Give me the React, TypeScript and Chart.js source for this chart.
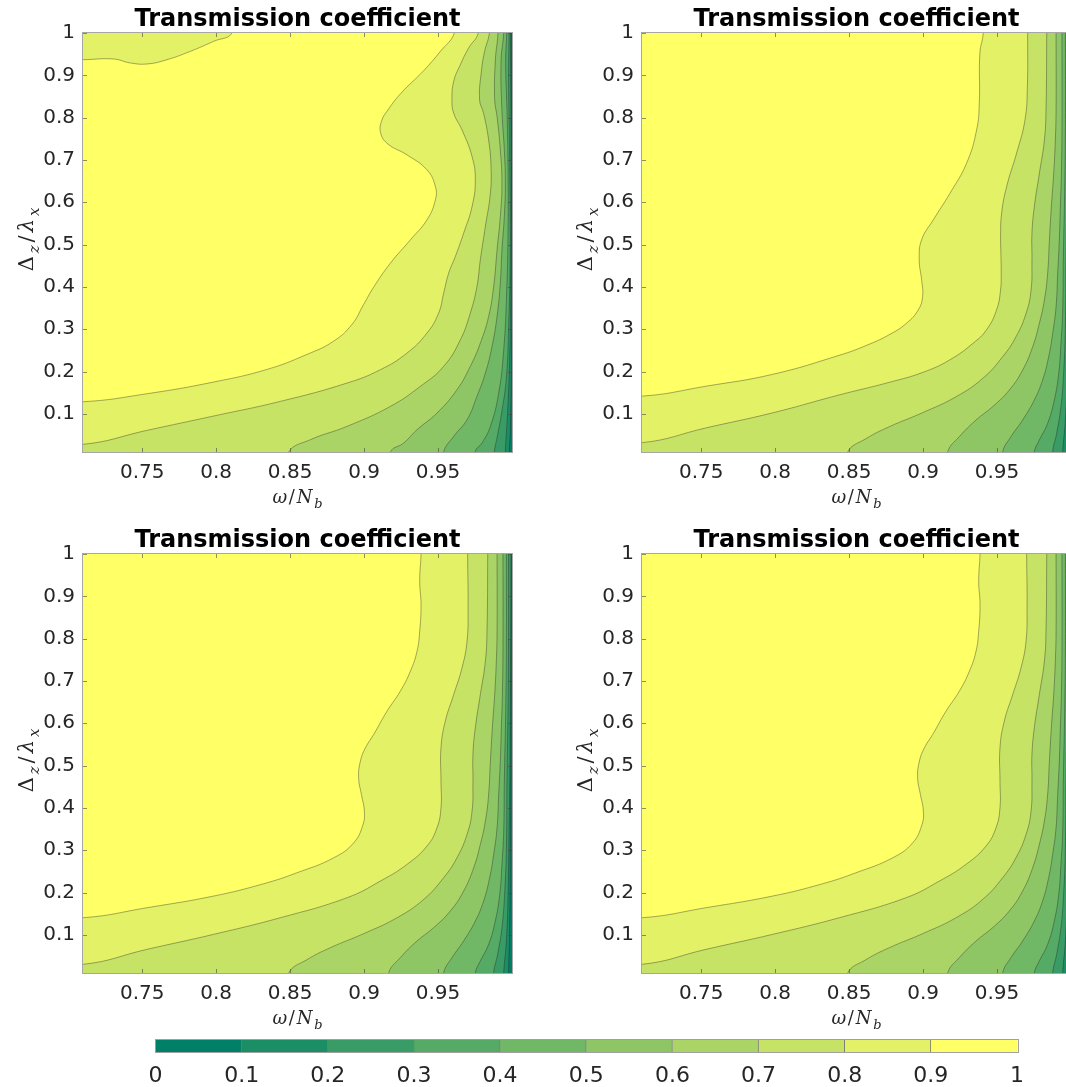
import { useEffect, useRef } from "react";
import { Chart, registerables } from "chart.js";

Chart.register(...registerables);

type XY = [number, number];

// Axis ranges: ω/N_b horizontally, Δz/λx vertically
const W_MIN = 0.71;
const W_MAX = 1.0;
const D_MIN = 0.01;
const D_MAX = 1.0;

const xTickValues = [0.75, 0.8, 0.85, 0.9, 0.95];
const yTickValues = [0.1, 0.2, 0.3, 0.4, 0.5, 0.6, 0.7, 0.8, 0.9, 1];
const contourLevels = [0.1, 0.2, 0.3, 0.4, 0.5, 0.6, 0.7, 0.8, 0.9];
const colorbarTicks = [0, 0.1, 0.2, 0.3, 0.4, 0.5, 0.6, 0.7, 0.8, 0.9, 1];

// "summer" style band colours, one per interval between levels
const levelColors = [
  "#008066", "#1c8e66", "#399c66", "#55aa66", "#71b866",
  "#8ec666", "#aad566", "#c6e366", "#e3f166", "#ffff66",
];

// ---------- panel 1 (upper left): iso-lines of the transmission coefficient ----------
const p1_t90: XY[] = [
  [0.71, 0.1288], [0.7533, 0.1477], [0.7983, 0.1753], [0.8344, 0.2052], [0.8614, 0.2406],
  [0.8795, 0.2721], [0.8918, 0.3114], [0.8997, 0.3586], [0.9065, 0.3996], [0.9178, 0.4562],
  [0.9313, 0.5113], [0.9425, 0.5585], [0.9482, 0.6057], [0.9482, 0.6372], [0.9425, 0.6766],
  [0.929, 0.712], [0.9155, 0.7395], [0.911, 0.7671], [0.9121, 0.7946], [0.9155, 0.8151],
  [0.9245, 0.856], [0.9403, 0.9111], [0.9516, 0.9567], [0.961, 1.0],
];
const p1_t90_corner: XY[] = [
  [0.71, 0.937], [0.7307, 0.9386], [0.742, 0.9292], [0.7533, 0.9268], [0.7668, 0.937],
  [0.7826, 0.9567], [0.7983, 0.9803], [0.8107, 1.0],
];
const p1_t80: XY[] = [
  [0.71, 0.0281], [0.7533, 0.0612], [0.7983, 0.095], [0.8434, 0.1296], [0.8885, 0.1729],
  [0.911, 0.2044], [0.929, 0.2437], [0.9425, 0.2909], [0.9504, 0.3382], [0.9538, 0.3854],
  [0.9572, 0.4326], [0.9617, 0.472], [0.9673, 0.527], [0.973, 0.59], [0.9752, 0.653],
  [0.973, 0.708], [0.9662, 0.771], [0.9606, 0.8103], [0.9594, 0.8418], [0.9606, 0.8859],
  [0.9651, 0.9252], [0.9707, 0.9646], [0.9772, 1.0],
];
const p1_t70: XY[] = [
  [0.849, 0.01], [0.8637, 0.0391], [0.8885, 0.0706], [0.9178, 0.1178], [0.938, 0.165],
  [0.9538, 0.2123], [0.9651, 0.2752], [0.9718, 0.3382], [0.9763, 0.4011], [0.9786, 0.4641],
  [0.982, 0.5428], [0.9854, 0.6215], [0.9858, 0.6844], [0.9842, 0.7474], [0.9808, 0.8103],
  [0.9781, 0.8418], [0.9793, 0.9095], [0.9815, 0.9567], [0.9847, 1.0],
];
const p1_t60: XY[] = [
  [0.9178, 0.01], [0.9268, 0.0313], [0.9358, 0.0627], [0.9493, 0.1021], [0.9628, 0.1572],
  [0.9718, 0.2123], [0.9786, 0.2673], [0.9842, 0.3303], [0.9876, 0.4011], [0.9899, 0.4877],
  [0.9921, 0.5664], [0.9932, 0.6451], [0.9921, 0.7238], [0.9899, 0.8025], [0.9883, 0.8418],
  [0.9887, 0.9331], [0.9905, 1.0],
];
const p1_t50: XY[] = [
  [0.9538, 0.01], [0.9606, 0.047], [0.9696, 0.0863], [0.9763, 0.1414], [0.982, 0.1965],
  [0.9865, 0.2595], [0.9899, 0.3303], [0.9921, 0.409], [0.9932, 0.4877], [0.9948, 0.5664],
  [0.9955, 0.6451], [0.9948, 0.7238], [0.9932, 0.8151], [0.9926, 0.9331], [0.9944, 1.0],
];
const p1_t40: XY[] = [
  [0.975, 0.01], [0.9797, 0.0313], [0.9854, 0.0706], [0.991, 0.1493], [0.9944, 0.2516],
  [0.9962, 0.3697], [0.9973, 0.527], [0.9973, 0.6844], [0.9966, 0.8151], [0.9957, 0.9331],
  [0.9964, 1.0],
];
const p1_t30: XY[] = [
  [0.9881, 0.01], [0.9899, 0.0438], [0.9932, 0.1068], [0.9962, 0.1855], [0.9977, 0.3035],
  [0.9987, 0.4609], [0.9984, 0.697], [0.9977, 0.8938], [0.998, 1.0],
];
const p1_t20: XY[] = [
  [0.9955, 0.01], [0.9971, 0.1068], [0.9984, 0.2249], [0.9991, 0.3822], [0.9993, 0.697],
  [0.9989, 1.0],
];
const p1_t10: XY[] = [
  [0.9982, 0.01], [0.9989, 0.0675], [0.9996, 0.2249], [0.9998, 0.5396], [0.9996, 1.0],
];

// ---------- panel 2 (upper right) ----------
const p2_t90: XY[] = [
  [0.71, 0.142], [0.7533, 0.1655], [0.7983, 0.1935], [0.8438, 0.239], [0.8618, 0.262],
  [0.8776, 0.288], [0.8889, 0.3146], [0.8968, 0.346], [0.8997, 0.3775], [0.899, 0.4169],
  [0.8974, 0.4641], [0.899, 0.5113], [0.9069, 0.5585], [0.9182, 0.6215], [0.9294, 0.6923],
  [0.9362, 0.771], [0.938, 0.834], [0.9384, 0.952], [0.9407, 1.0],
];
const p2_t80: XY[] = [
  [0.71, 0.032], [0.7533, 0.067], [0.7983, 0.1025], [0.8438, 0.1453], [0.8776, 0.175],
  [0.9001, 0.1985], [0.9182, 0.228], [0.9339, 0.2673], [0.9429, 0.2988], [0.9497, 0.346],
  [0.9524, 0.3932], [0.9528, 0.4326], [0.9526, 0.4798], [0.9524, 0.5192], [0.9531, 0.5743],
  [0.9565, 0.6372], [0.9632, 0.7159], [0.9689, 0.7946], [0.9705, 0.8733], [0.9707, 1.0],
];

// ---------- panels 3 and 4 (lower row) ----------
const p3_t90: XY[] = [
  [0.71, 0.1406], [0.7533, 0.1643], [0.7983, 0.1918], [0.8321, 0.2209], [0.8547, 0.2469],
  [0.8795, 0.2823], [0.893, 0.3177], [0.8993, 0.361], [0.9002, 0.3925], [0.8982, 0.4318],
  [0.8963, 0.4712], [0.8975, 0.5105], [0.9009, 0.542], [0.9065, 0.5735], [0.9155, 0.6286],
  [0.9245, 0.6758], [0.9313, 0.723], [0.9358, 0.7702], [0.9376, 0.8174], [0.9385, 0.8804],
  [0.9376, 0.9355], [0.9385, 1.0],
];
const p3_t80: XY[] = [
  [0.71, 0.0305], [0.7533, 0.0659], [0.7983, 0.1013], [0.8434, 0.1406], [0.8885, 0.1879],
  [0.911, 0.2272], [0.929, 0.2666], [0.9425, 0.3098], [0.9493, 0.3531], [0.952, 0.4003],
  [0.952, 0.4633], [0.952, 0.542], [0.9549, 0.6049], [0.9606, 0.6679], [0.9662, 0.7309],
  [0.9696, 0.7938], [0.9703, 0.8725], [0.97, 1.0],
];
const p3_t70: XY[] = [
  [0.849, 0.01], [0.8614, 0.0415], [0.8772, 0.0698], [0.8997, 0.1029], [0.9223, 0.1406],
  [0.9403, 0.1839], [0.9538, 0.2351], [0.9628, 0.2823], [0.9696, 0.3374], [0.973, 0.3925],
  [0.9736, 0.4633], [0.9736, 0.5263], [0.9752, 0.5892], [0.9786, 0.6679], [0.982, 0.7466],
  [0.9831, 0.8174], [0.9836, 1.0],
];
const p3_t60: XY[] = [
  [0.9166, 0.01], [0.9245, 0.0462], [0.9358, 0.0856], [0.947, 0.117], [0.9583, 0.1564],
  [0.9673, 0.2036], [0.9741, 0.2587], [0.9786, 0.3138], [0.982, 0.3689], [0.9842, 0.4318],
  [0.9854, 0.5105], [0.9867, 0.5892], [0.9883, 0.6679], [0.9894, 0.7466], [0.9899, 0.8174],
  [0.9899, 1.0],
];
const p3_t50: XY[] = [
  [0.9538, 0.01], [0.9594, 0.0462], [0.9673, 0.0856], [0.9752, 0.1328], [0.9808, 0.18],
  [0.9849, 0.2351], [0.9876, 0.2902], [0.9899, 0.3531], [0.991, 0.4318], [0.9921, 0.5105],
  [0.9928, 0.5892], [0.9935, 0.6679], [0.9939, 0.7781], [0.9939, 1.0],
];
const p3_t40: XY[] = [
  [0.9752, 0.01], [0.9786, 0.0383], [0.9842, 0.0777], [0.9887, 0.1328], [0.9917, 0.1957],
  [0.9932, 0.2666], [0.9944, 0.3453], [0.9948, 0.4633], [0.9957, 0.6207], [0.9962, 0.7781],
  [0.9962, 1.0],
];
const p3_t30: XY[] = [
  [0.9876, 0.01], [0.9903, 0.0541], [0.9932, 0.117], [0.995, 0.1957], [0.9962, 0.3059],
  [0.9966, 0.4633], [0.9975, 0.6994], [0.9977, 1.0],
];
const p3_t20: XY[] = [
  [0.9944, 0.01], [0.9962, 0.0856], [0.9973, 0.1879], [0.998, 0.3453], [0.9987, 0.542],
  [0.9993, 1.0],
];
const p3_t10: XY[] = [
  [0.9977, 0.01], [0.9984, 0.117], [0.9989, 0.3059], [0.9993, 0.6207], [0.9998, 1.0],
];

type Panel = { left: number; top: number; isolines: XY[][][] };

// isolines[k] holds the curve pieces of level contourLevels[k]
const panels: Panel[] = [
  {
    left: 0, top: 0,
    isolines: [[p1_t10], [p1_t20], [p1_t30], [p1_t40], [p1_t50], [p1_t60], [p1_t70], [p1_t80], [p1_t90, p1_t90_corner]],
  },
  {
    left: 559, top: 0,
    isolines: [[p3_t10], [p3_t20], [p3_t30], [p3_t40], [p3_t50], [p3_t60], [p3_t70], [p2_t80], [p2_t90]],
  },
  {
    left: 0, top: 521,
    isolines: [[p3_t10], [p3_t20], [p3_t30], [p3_t40], [p3_t50], [p3_t60], [p3_t70], [p3_t80], [p3_t90]],
  },
  {
    left: 559, top: 521,
    isolines: [[p3_t10], [p3_t20], [p3_t30], [p3_t40], [p3_t50], [p3_t60], [p3_t70], [p3_t80], [p3_t90]],
  },
];

const PANEL_W = 530;
const PANEL_H = 520;
const TEXT = "#262626";
const SANS = '"DejaVu Sans", sans-serif';
const SERIF = '"DejaVu Serif", "Liberation Serif", serif';
const TENSION = 0.45;

type Pt = { x: number; y: number };

// Carry a curve a little past the frame edge it ends on, so the smoothed
// outline meets the border cleanly (the part outside is clipped away).
function toFrameEdge(piece: XY[]): Pt[] {
  const pts = piece.map(([x, y]) => ({ x, y }));
  const s = pts[0];
  const e = pts[pts.length - 1];
  const out: Pt[] = [];
  if (s.y <= D_MIN + 1e-6) out.push({ x: s.x, y: D_MIN - 0.05 });
  else if (s.x <= W_MIN + 1e-6) out.push({ x: W_MIN - 0.05, y: s.y });
  out.push(...pts);
  if (e.y >= D_MAX - 1e-6) out.push({ x: e.x, y: D_MAX + 0.05 });
  else if (e.x >= W_MAX - 1e-6) out.push({ x: W_MAX + 0.05, y: e.y });
  return out;
}

const fmt = (v: number | string) => String(Math.round(Number(v) * 100) / 100);

type Run = { text: string; italic?: boolean; sub?: boolean };
const xAxisRuns: Run[] = [
  { text: "ω", italic: true }, { text: "/" }, { text: "N", italic: true }, { text: "b", italic: true, sub: true },
];
const yAxisRuns: Run[] = [
  { text: "Δ" }, { text: "z", italic: true, sub: true }, { text: "/" }, { text: "λ", italic: true }, { text: "x", italic: true, sub: true },
];

function drawRuns(ctx: CanvasRenderingContext2D, runs: Run[], cx: number, baseline: number, size: number, gapRatio: number) {
  const fontOf = (r: Run) => `${r.italic ? "italic " : ""}${r.sub ? Math.round(size * 0.7) : size}px ${SERIF}`;
  const gap = size * gapRatio;
  const widths = runs.map((r) => {
    ctx.font = fontOf(r);
    return ctx.measureText(r.text).width;
  });
  const total = widths.reduce((a, b) => a + b, 0) + gap * (runs.length - 1);
  let x = cx - total / 2;
  ctx.textAlign = "left";
  ctx.textBaseline = "alphabetic";
  runs.forEach((r, i) => {
    ctx.font = fontOf(r);
    ctx.fillText(r.text, x, baseline + (r.sub ? size * 0.28 : 0));
    x += widths[i] + gap;
  });
}

const panelDecor = {
  id: "panelDecor",
  afterDatasetsDraw(chart: any) {
    const { ctx, chartArea } = chart;
    const { left, top, right, bottom } = chartArea;
    const xs = chart.scales.x;
    const ys = chart.scales.y;
    ctx.save();
    // inward tick marks on all four sides
    ctx.strokeStyle = "rgba(70,70,70,0.6)";
    ctx.lineWidth = 1;
    ctx.beginPath();
    xTickValues.forEach((v) => {
      const px = Math.round(xs.getPixelForValue(v)) + 0.5;
      ctx.moveTo(px, bottom);
      ctx.lineTo(px, bottom - 4);
      ctx.moveTo(px, top);
      ctx.lineTo(px, top + 4);
    });
    yTickValues.forEach((v) => {
      const py = Math.round(ys.getPixelForValue(v)) + 0.5;
      ctx.moveTo(left, py);
      ctx.lineTo(left + 4, py);
      ctx.moveTo(right, py);
      ctx.lineTo(right - 4, py);
    });
    ctx.stroke();
    // axes box
    ctx.strokeStyle = "rgba(150,150,150,0.85)";
    ctx.strokeRect(Math.round(left) - 0.5, Math.round(top) - 0.5, Math.round(right - left) + 1, Math.round(bottom - top) + 1);
    ctx.restore();
  },
  afterDraw(chart: any) {
    const { ctx, chartArea } = chart;
    const { left, top, right, bottom } = chartArea;
    const cx = (left + right) / 2;
    ctx.save();
    ctx.fillStyle = "#000";
    ctx.font = `bold 24px ${SANS}`;
    ctx.textAlign = "center";
    ctx.textBaseline = "alphabetic";
    ctx.fillText("Transmission coefficient", cx, top - 7);
    ctx.fillStyle = TEXT;
    drawRuns(ctx, xAxisRuns, cx, bottom + 51, 18, 0.1);
    ctx.translate(left - 50, (top + bottom) / 2 - 3);
    ctx.rotate(-Math.PI / 2);
    drawRuns(ctx, yAxisRuns, 0, 0, 21, 0.14);
    ctx.restore();
  },
};

function panelConfig(panel: Panel): any {
  const datasets: any[] = [];
  // lowest band covers the whole frame
  datasets.push({
    data: [
      { x: W_MIN - 0.02, y: D_MIN - 0.02 }, { x: W_MAX + 0.02, y: D_MIN - 0.02 },
      { x: W_MAX + 0.02, y: D_MAX + 0.02 }, { x: W_MIN - 0.02, y: D_MAX + 0.02 },
    ],
    fill: "shape", backgroundColor: levelColors[0], borderWidth: 0, pointRadius: 0, tension: 0, order: 100,
  });
  // each level paints the region above it (upper-left side), lowest level first
  panel.isolines.forEach((pieces, k) => {
    const parts = pieces.map(toFrameEdge);
    let ring = parts[0].slice();
    for (let i = 1; i < parts.length; i++) ring = ring.concat(parts[i].slice().reverse());
    ring.push({ x: W_MIN - 0.3, y: D_MAX + 0.3 }, { x: W_MIN - 0.3, y: D_MIN - 0.3 });
    datasets.push({
      label: `T > ${contourLevels[k]}`,
      data: ring, fill: "shape", backgroundColor: levelColors[k + 1],
      borderWidth: 0, pointRadius: 0, tension: TENSION, order: 90 - k,
    });
  });
  // contour lines on top
  panel.isolines.forEach((pieces) => {
    pieces.forEach((p) => {
      datasets.push({
        data: toFrameEdge(p), fill: false, borderColor: "rgba(35,35,35,0.55)", borderWidth: 0.7,
        pointRadius: 0, tension: TENSION, order: 0,
      });
    });
  });

  return {
    type: "line",
    data: { datasets },
    options: {
      responsive: false,
      animation: false,
      devicePixelRatio: 1,
      events: [],
      layout: { padding: { top: 33, right: 18, left: 0, bottom: 0 } },
      elements: { line: { capBezierPoints: false }, point: { radius: 0 } },
      plugins: { legend: { display: false }, tooltip: { enabled: false }, title: { display: false } },
      scales: {
        x: {
          type: "linear", min: W_MIN, max: W_MAX,
          afterBuildTicks: (s: any) => { s.ticks = xTickValues.map((value) => ({ value })); },
          afterFit: (s: any) => { s.height = 68; },
          grid: { display: false, drawTicks: false },
          border: { display: false },
          ticks: { color: TEXT, font: { family: SANS, size: 20 }, padding: 9, maxRotation: 0, autoSkip: false, callback: fmt },
        },
        y: {
          type: "linear", min: D_MIN, max: D_MAX,
          afterBuildTicks: (s: any) => { s.ticks = yTickValues.map((value) => ({ value })); },
          afterFit: (s: any) => { s.width = 83; },
          grid: { display: false, drawTicks: false },
          border: { display: false },
          ticks: { color: TEXT, font: { family: SANS, size: 20 }, padding: 8, autoSkip: false, callback: fmt },
        },
      },
    },
    plugins: [panelDecor],
  };
}

function ContourPanel({ panel }: { panel: Panel }) {
  const ref = useRef<HTMLCanvasElement>(null);
  useEffect(() => {
    const chart = new Chart(ref.current as HTMLCanvasElement, panelConfig(panel));
    return () => chart.destroy();
  }, [panel]);
  return (
    <canvas
      ref={ref}
      width={PANEL_W}
      height={PANEL_H}
      style={{ position: "absolute", left: panel.left, top: panel.top, width: PANEL_W, height: PANEL_H }}
    />
  );
}

const colorbarFrame = {
  id: "colorbarFrame",
  afterDatasetsDraw(chart: any) {
    const { ctx, chartArea } = chart;
    ctx.save();
    ctx.strokeStyle = "rgba(150,150,150,0.9)";
    ctx.lineWidth = 1;
    ctx.strokeRect(Math.round(chartArea.left) - 0.5, Math.round(chartArea.top) - 0.5,
      Math.round(chartArea.right - chartArea.left) + 1, Math.round(chartArea.bottom - chartArea.top) + 1);
    ctx.restore();
  },
};

function Colorbar() {
  const ref = useRef<HTMLCanvasElement>(null);
  useEffect(() => {
    const chart = new Chart(ref.current as HTMLCanvasElement, {
      type: "bar",
      data: {
        labels: [""],
        datasets: levelColors.map((c, i) => ({
          data: [[colorbarTicks[i], colorbarTicks[i + 1]]],
          backgroundColor: c,
          borderColor: "rgba(40,40,40,0.6)",
          borderWidth: { top: 0, bottom: 0, left: 0, right: i < levelColors.length - 1 ? 1 : 0 },
          borderSkipped: false,
          barPercentage: 1,
          categoryPercentage: 1,
          grouped: false,
        })),
      } as any,
      options: {
        indexAxis: "y",
        responsive: false,
        animation: false,
        devicePixelRatio: 1,
        events: [],
        layout: { padding: { left: 35.5, right: 43, top: 10, bottom: 0 } },
        plugins: { legend: { display: false }, tooltip: { enabled: false } },
        scales: {
          x: {
            type: "linear", min: 0, max: 1,
            afterBuildTicks: (s: any) => { s.ticks = colorbarTicks.map((value) => ({ value })); },
            afterFit: (s: any) => { s.height = 35; },
            grid: { display: false, drawTicks: false },
            border: { display: false },
            ticks: { color: TEXT, font: { family: SANS, size: 22 }, padding: 11, maxRotation: 0, autoSkip: false, callback: fmt },
          },
          y: { display: false },
        },
      } as any,
      plugins: [colorbarFrame],
    });
    return () => chart.destroy();
  }, []);
  return (
    <canvas ref={ref} width={940} height={57} style={{ position: "absolute", left: 120, top: 1030, width: 940, height: 57 }} />
  );
}

export default function App() {
  return (
    <div style={{ position: "fixed", left: 0, top: 0, width: 1066, height: 1087, overflow: "hidden", background: "#fff" }}>
      {panels.map((p, i) => (
        <ContourPanel key={i} panel={p} />
      ))}
      <Colorbar />
    </div>
  );
}
